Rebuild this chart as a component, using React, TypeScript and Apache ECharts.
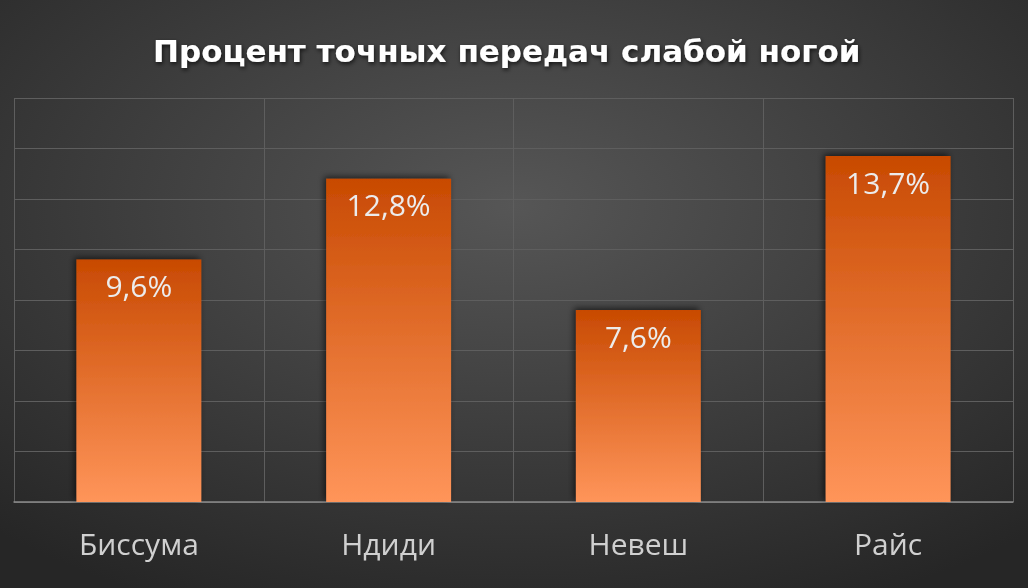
import React, { useEffect, useRef } from "react";
import * as echarts from "echarts";

const categories = ["Биссума", "Ндиди", "Невеш", "Райс"];
const values = [9.6, 12.8, 7.6, 13.7];
const titleText = "Процент точных передач слабой ногой";

export default function App() {
  const ref = useRef<HTMLDivElement>(null);
  useEffect(() => {
    const chart = echarts.init(ref.current!, null, { renderer: "svg" });
    chart.setOption({
      animation: false,
      backgroundColor: {
        type: "radial",
        x: 0.5,
        y: 0.35,
        r: 0.75,
        colorStops: [
          { offset: 0, color: "#565656" },
          { offset: 1, color: "#262626" },
        ],
      },
      title: {
        text: titleText,
        left: 148,
        top: 30,
        textStyle: {
          color: "#ffffff",
          fontFamily: "DejaVu Sans",
          fontWeight: "bold",
          fontSize: 31,
          textShadowColor: "rgba(0,0,0,0.7)",
          textShadowBlur: 4,
          textShadowOffsetX: 1,
          textShadowOffsetY: 2,
        },
      },
      grid: { left: 14, right: 15, top: 98, bottom: 86, containLabel: false },
      xAxis: {
        type: "category",
        data: categories,
        axisLine: { lineStyle: { color: "#8a8a8a", width: 1.5 } },
        axisTick: { show: false },
        splitLine: { show: true, lineStyle: { color: "#5e5e5e", width: 1 } },
        axisLabel: {
          color: "#d0d0d0",
          fontFamily: "Open Sans",
          fontSize: 30,
          margin: 26,
        },
      },
      yAxis: {
        type: "value",
        min: 0,
        max: 16,
        interval: 2,
        axisLabel: { show: false },
        axisLine: { show: false },
        axisTick: { show: false },
        splitLine: { lineStyle: { color: "#5e5e5e", width: 1 } },
      },
      series: [
        {
          type: "bar",
          data: values,
          barWidth: "50%",
          itemStyle: {
            color: {
              type: "linear",
              x: 0,
              y: 0,
              x2: 0,
              y2: 1,
              colorStops: [
                { offset: 0, color: "#c84a02" },
                { offset: 1, color: "#ff955a" },
              ],
            },
            shadowColor: "rgba(0,0,0,0.6)",
            shadowBlur: 6,
            shadowOffsetX: -2,
            shadowOffsetY: -2,
          },
          label: {
            show: true,
            position: "insideTop",
            distance: 11,
            color: "#ececec",
            fontFamily: "Open Sans",
            fontSize: 30,
            formatter: (p: any) => String(p.value).replace(".", ",") + "%",
          },
        },
      ],
    });
    return () => chart.dispose();
  }, []);
  return (
    <div
      ref={ref}
      style={{ position: "fixed", left: 0, top: 0, width: 1028, height: 588 }}
    />
  );
}
